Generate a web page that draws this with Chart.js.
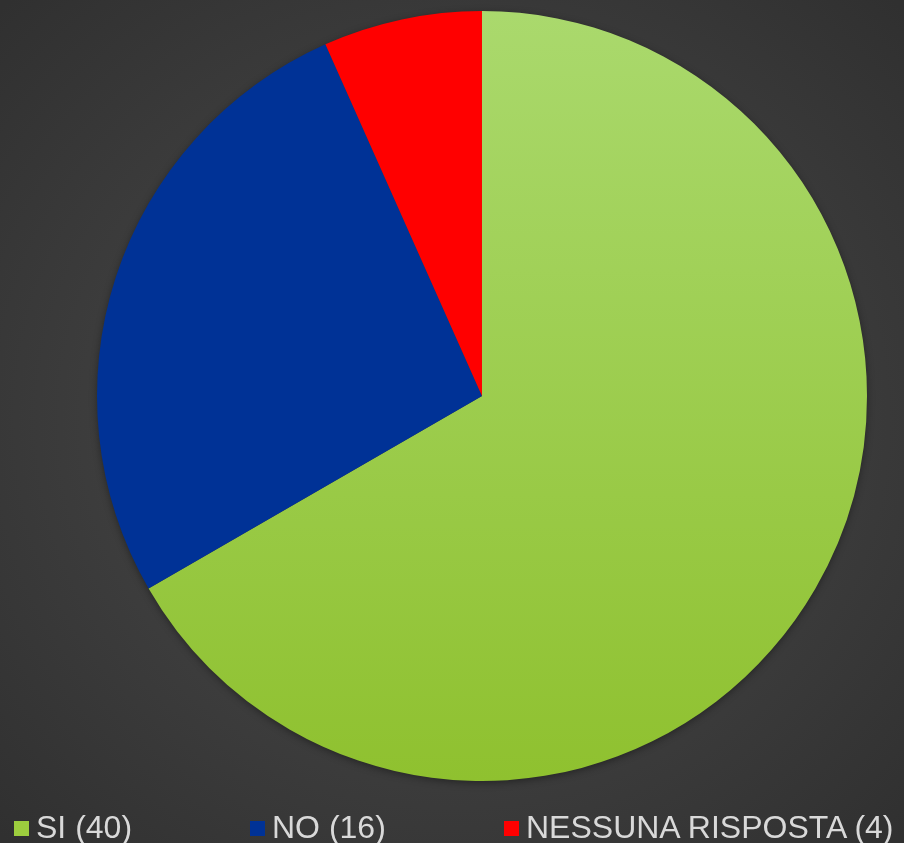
<!DOCTYPE html>
<html>
<head>
<meta charset="utf-8">
<script src="https://cdn.jsdelivr.net/npm/chart.js@4"></script>
<style>
  html, body { margin: 0; padding: 0; }
  body {
    width: 904px; height: 843px; overflow: hidden; position: relative;
    background: radial-gradient(ellipse 70% 70% at 50% 50%, #4a4a4a 0%, #3d3d3d 55%, #303030 100%);
    font-family: "Liberation Sans", Arial, sans-serif;
  }
  #wrap { position: absolute; left: 0; top: 0; width: 904px; height: 843px; }
  #legend { position: absolute; left: 0; top: 811px; height: 32px; width: 904px; }
  .li { position: absolute; top: 0; display: flex; align-items: center; color: #d9d9d9; font-size: 32px; line-height: 32px; white-space: nowrap; }
  .sw { width: 15px; height: 15px; margin-right: 7px; margin-top: 3px; }
</style>
</head>
<body>
<div id="wrap"><canvas id="c"></canvas></div>
<div id="legend"></div>
<script>
const labels = ["SI (40)", "NO (16)", "NESSUNA RISPOSTA (4)"];
const values = [40, 16, 4];
const colors = ["#9dce3e", "#003296", "#ff0000"];
const legendX = [14, 250, 504];

function greenFill(ctx) {
  const chart = ctx.chart;
  const area = chart.chartArea;
  if (!area) return colors[0];
  const g = chart.ctx.createLinearGradient(0, area.top, 0, area.bottom);
  g.addColorStop(0, "#aad96d");
  g.addColorStop(1, "#8fc12f");
  return g;
}

// soft drop shadow under the whole pie only
const shadow = {
  id: "shadow",
  beforeDatasetsDraw(chart) {
    const arc = chart.getDatasetMeta(0).data[0];
    if (!arc) return;
    const c = chart.ctx;
    c.save();
    c.shadowColor = "rgba(0,0,0,0.45)";
    c.shadowBlur = 8;
    c.shadowOffsetY = 2;
    c.fillStyle = "#3a3a3a";
    c.beginPath();
    c.arc(arc.x, arc.y, arc.outerRadius - 1, 0, Math.PI * 2);
    c.fill();
    c.restore();
  },
};

new Chart(document.getElementById("c"), {
  type: "pie",
  data: {
    labels,
    datasets: [
      {
        data: values,
        backgroundColor: (ctx) => (ctx.dataIndex === 0 ? greenFill(ctx) : colors[ctx.dataIndex]),
        borderWidth: 0,
      },
    ],
  },
  options: {
    responsive: true,
    maintainAspectRatio: false,
    animation: false,
    layout: { padding: { left: 97, right: 37, top: 11, bottom: 62 } },
    plugins: {
      legend: { display: false },
      tooltip: { enabled: false },
    },
  },
  plugins: [shadow],
});

const legend = document.getElementById("legend");
labels.forEach((l, i) => {
  const item = document.createElement("div");
  item.className = "li";
  item.style.left = legendX[i] + "px";
  item.innerHTML = `<span class="sw" style="background:${colors[i]}"></span><span>${l}</span>`;
  legend.appendChild(item);
});
</script>
</body>
</html>
